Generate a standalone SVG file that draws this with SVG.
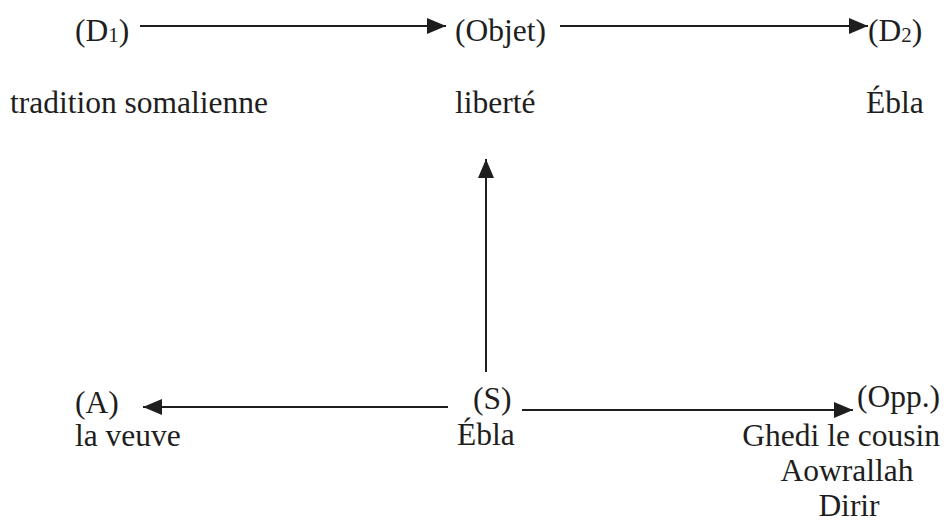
<svg xmlns="http://www.w3.org/2000/svg" width="946" height="524" viewBox="0 0 946 524">
<defs>
<marker id="ah" markerUnits="userSpaceOnUse" markerWidth="20" markerHeight="17" refX="19" refY="8" orient="auto">
<path d="M0,0 L19,8 L0,16 z" fill="#1e1e1e"/>
</marker>
<style>
text{font-family:"Liberation Serif","Times New Roman",serif;font-size:31.5px;fill:#1e1e1e}
.sub{font-size:21px}
.c{stroke:#1e1e1e;stroke-width:2;fill:none;marker-end:url(#ah)}
</style>
</defs>
<rect width="946" height="524" fill="#ffffff"/>
<g id="connectors">
<line class="c" x1="140" y1="26" x2="446" y2="26"/>
<line class="c" x1="560" y1="26" x2="868" y2="26"/>
<line class="c" x1="486" y1="372" x2="486" y2="159"/>
<line class="c" x1="448" y1="407" x2="143" y2="407"/>
<line class="c" x1="522" y1="410" x2="853" y2="410"/>
</g>
<g id="D1"><text x="75" y="41">(D<tspan class="sub" dy="1">1</tspan><tspan dy="-1">)</tspan></text><text x="10" y="113">tradition somalienne</text></g>
<g id="Objet"><text x="455" y="41">(Objet)</text><text x="455" y="113">liberté</text></g>
<g id="D2"><text x="868" y="41">(D<tspan class="sub" dy="1">2</tspan><tspan dy="-1">)</tspan></text><text x="866" y="113">Ébla</text></g>
<g id="A"><text x="75" y="413">(A)</text><text x="75" y="446">la veuve</text></g>
<g id="S"><text x="473" y="409">(S)</text><text x="457" y="445">Ébla</text></g>
<g id="Opp"><text x="857" y="407">(Opp.)</text><text x="940" y="446" text-anchor="end">Ghedi le cousin</text><text x="847" y="481" text-anchor="middle">Aowrallah</text><text x="849" y="516" text-anchor="middle">Dirir</text></g>
</svg>
